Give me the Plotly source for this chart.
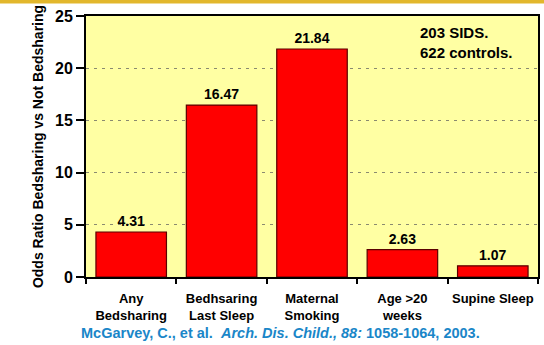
import plotly.graph_objects as go

categories = ["Any<br>Bedsharing", "Bedhsaring<br>Last Sleep", "Maternal<br>Smoking",
              "Age >20<br>weeks", "Supine Sleep"]
odds_ratios = [4.31, 16.47, 21.84, 2.63, 1.07]
y_ticks = [0, 5, 10, 15, 20, 25]

W, H = 544, 345
M_L, M_R, M_T, M_B = 86, 6, 16, 68
PW, PH = W - M_L - M_R, H - M_T - M_B
FONT = "Arial, Liberation Sans, sans-serif"

fig = go.Figure(go.Bar(
    x=categories,
    y=odds_ratios,
    marker=dict(color="#FF0000", line=dict(color="#5A0000", width=1.2)),
    text=[f"{v:.2f}" for v in odds_ratios],
    textposition="outside",
    textfont=dict(family=FONT, size=14, color="black", weight="bold"),
    cliponaxis=False,
    width=0.78,
))

fig.update_layout(
    width=W, height=H,
    margin=dict(l=M_L, r=M_R, t=M_T, b=M_B, autoexpand=False),
    paper_bgcolor="white",
    plot_bgcolor="#FFFFA3",
    showlegend=False,
    font=dict(family=FONT, color="black"),
)

fig.update_yaxes(
    range=[0, 25],
    tickvals=y_ticks,
    automargin=False,
    ticks="outside", ticklen=8, tickwidth=2, tickcolor="black",
    tickfont=dict(family=FONT, size=16, color="black", weight="bold"),
    showline=True, linecolor="black", linewidth=2, mirror=True,
    showgrid=True, gridcolor="#8A8A70", griddash="3px,5px", gridwidth=1,
    zeroline=False,
    title=dict(text="Odds Ratio Bedsharing vs Not Bedsharing",
               font=dict(family=FONT, size=14, color="black", weight="bold"),
               standoff=8),
)

fig.update_xaxes(
    automargin=False,
    tickangle=0,
    tickson="boundaries",
    ticks="outside", ticklen=5, tickwidth=2, tickcolor="black",
    ticklabelstandoff=8,
    tickfont=dict(family=FONT, size=13, color="black", weight="bold"),
    showline=True, linecolor="black", linewidth=2, mirror=True,
    showgrid=False,
)

# Gold band along the top edge of the page
fig.add_shape(type="rect", xref="paper", yref="paper",
              x0=-M_L / PW, x1=1 + M_R / PW,
              y0=1 + 12.5 / PH, y1=1 + M_T / PH,
              fillcolor="#E2B72C", line_width=0, layer="above")

fig.add_annotation(
    text="203 SIDS.<br>622 controls.",
    xref="paper", yref="paper", x=(418 - M_L) / PW, y=1 - (22 - M_T) / PH,
    xanchor="left", yanchor="top", align="left", showarrow=False,
    font=dict(family=FONT, size=15, color="black", weight="bold"),
)

fig.add_annotation(
    text="McGarvey, C., et al.  <i>Arch. Dis. Child., 88:</i> 1058-1064, 2003.",
    xref="paper", yref="paper", x=(280 - M_L) / PW, y=-(333 - M_T - PH) / PH,
    xanchor="center", yanchor="middle", showarrow=False,
    font=dict(family=FONT, size=14.5, color="#1A86C8", weight="bold"),
)

fig.write_html("out.html")
